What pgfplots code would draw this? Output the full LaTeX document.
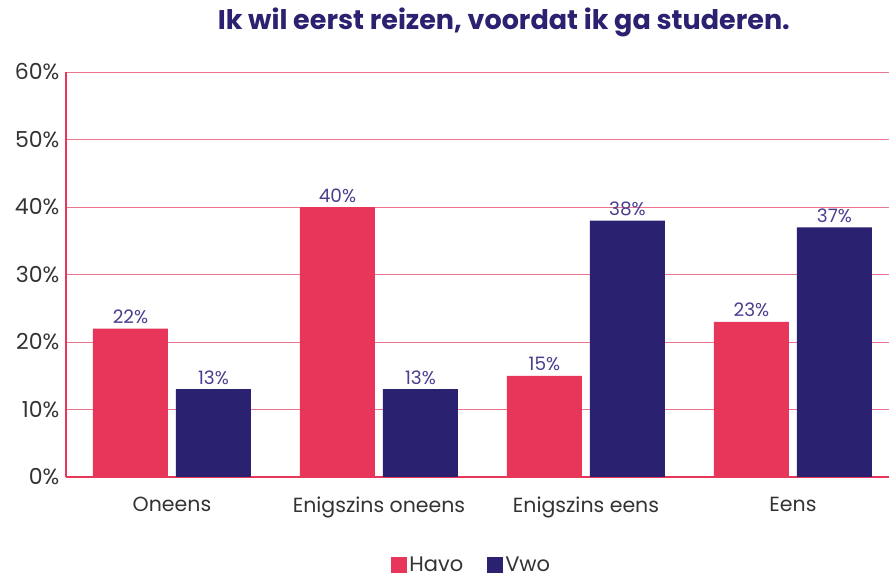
\documentclass[border=0pt]{standalone}
\usepackage{pgfplots}
\pgfplotsset{compat=1.18}
\usepackage{fontspec}
\setmainfont{Poppins}
\definecolor{havo}{HTML}{E8365A}
\definecolor{vwo}{HTML}{2A2170}
\definecolor{gridpink}{HTML}{EC7590}
\definecolor{ticktext}{HTML}{333333}
\definecolor{vallab}{HTML}{4A3F8F}
\begin{document}
\begin{tikzpicture}
\begin{axis}[
  at={(0,0)}, anchor=south west,
  scale only axis,
  width=823pt, height=405pt,
  ymin=0, ymax=60,
  xmin=-0.512, xmax=3.464,
  ytick={0,10,20,30,40,50,60},
  yticklabel={\pgfmathprintnumber{\tick}\%},
  /pgf/number format/assume math mode=true,
  xtick={0,1,2,3},
  xticklabels={Oneens, Enigszins oneens, Enigszins eens, Eens},
  axis x line=bottom, axis y line=left,
  axis line style={draw=havo, line width=2.5pt, -},
  tick style={draw=none},
  ymajorgrids,
  major grid style={draw=gridpink, line width=0.8pt},
  tick label style={text=ticktext},
  yticklabel style={font=\fontsize{22}{24}\selectfont, xshift=-1pt},
  xticklabel style={font=\fontsize{20.5}{23}\selectfont, yshift=-12pt},
  ybar, bar width=75pt,
  nodes near coords={\pgfmathprintnumber{\pgfplotspointmeta}\%},
  nodes near coords style={font=\fontsize{18.5}{20}\selectfont, text=vallab, yshift=1pt},
  legend style={at={(0.493,-0.217)}, anchor=center, draw=none, legend columns=2,
    font=\fontsize{21}{24}\selectfont, text=ticktext,
    /tikz/every even column/.append style={column sep=22pt}},
  legend image code/.code={\fill[#1] (0pt,-8pt) rectangle (16pt,8pt);},
  clip=false,
]
\addplot[fill=havo, draw=none, bar shift=-41.5pt] coordinates {(0,22) (1,40) (2,15) (3,23)};
\addplot[fill=vwo, draw=none, bar shift=41.5pt] coordinates {(0,13) (1,13) (2,38) (3,37)};
\legend{Havo, Vwo}
\node[font=\bfseries\fontsize{27}{30}\selectfont, text=vwo] at (rel axis cs:0.532,1.123) {Ik wil eerst reizen, voordat ik ga studeren.};
\end{axis}
\pgfresetboundingbox
\useasboundingbox (-66pt,-101pt) rectangle (823pt,477pt);
\end{tikzpicture}
\end{document}
